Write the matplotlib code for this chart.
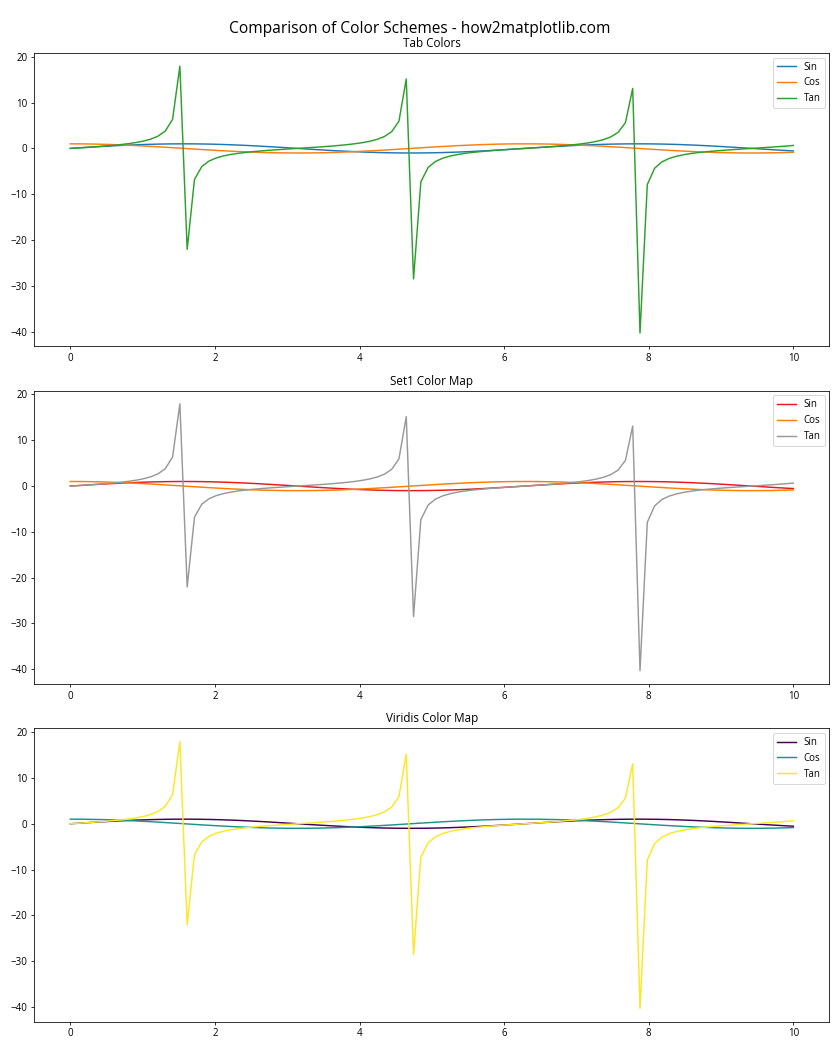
import matplotlib
matplotlib.use("Agg")
import matplotlib.pyplot as plt
import numpy as np

plt.rcParams['font.family'] = ['Open Sans', 'DejaVu Sans']

# x positions (100 evenly spaced samples from 0 to 10)
x = [0.0, 0.101, 0.202, 0.303, 0.404, 0.505, 0.606, 0.707, 0.808, 0.909,
     1.010, 1.111, 1.212, 1.313, 1.414, 1.515, 1.616, 1.717, 1.818, 1.919,
     2.020, 2.121, 2.222, 2.323, 2.424, 2.525, 2.626, 2.727, 2.828, 2.929,
     3.030, 3.131, 3.232, 3.333, 3.434, 3.535, 3.636, 3.737, 3.838, 3.939,
     4.040, 4.141, 4.242, 4.343, 4.444, 4.545, 4.646, 4.747, 4.848, 4.949,
     5.051, 5.152, 5.253, 5.354, 5.455, 5.556, 5.657, 5.758, 5.859, 5.960,
     6.061, 6.162, 6.263, 6.364, 6.465, 6.566, 6.667, 6.768, 6.869, 6.970,
     7.071, 7.172, 7.273, 7.374, 7.475, 7.576, 7.677, 7.778, 7.879, 7.980,
     8.081, 8.182, 8.283, 8.384, 8.485, 8.586, 8.687, 8.788, 8.889, 8.990,
     9.091, 9.192, 9.293, 9.394, 9.495, 9.596, 9.697, 9.798, 9.899, 10.0]

sin_vals = [0.000, 0.101, 0.201, 0.298, 0.393, 0.484, 0.570, 0.650, 0.723, 0.789,
            0.847, 0.896, 0.936, 0.967, 0.988, 0.999, 0.999, 0.989, 0.970, 0.940,
            0.901, 0.852, 0.795, 0.730, 0.657, 0.578, 0.493, 0.403, 0.308, 0.211,
            0.111, 0.010, -0.091, -0.191, -0.289, -0.384, -0.475, -0.561, -0.642, -0.716,
            -0.783, -0.841, -0.892, -0.933, -0.964, -0.986, -0.998, -0.999, -0.991, -0.972,
            -0.943, -0.905, -0.858, -0.801, -0.737, -0.665, -0.586, -0.502, -0.412, -0.318,
            -0.221, -0.121, -0.021, 0.080, 0.180, 0.279, 0.374, 0.466, 0.553, 0.634,
            0.709, 0.776, 0.836, 0.887, 0.929, 0.962, 0.984, 0.997, 1.000, 0.992,
            0.974, 0.947, 0.909, 0.863, 0.808, 0.744, 0.673, 0.595, 0.511, 0.421,
            0.328, 0.231, 0.131, 0.031, -0.070, -0.170, -0.269, -0.365, -0.457, -0.544]

cos_vals = [1.000, 0.995, 0.980, 0.954, 0.919, 0.875, 0.822, 0.760, 0.691, 0.615,
            0.532, 0.444, 0.351, 0.255, 0.156, 0.056, -0.045, -0.146, -0.245, -0.341,
            -0.434, -0.523, -0.606, -0.683, -0.754, -0.816, -0.870, -0.915, -0.951, -0.978,
            -0.994, -1.000, -0.996, -0.982, -0.957, -0.923, -0.880, -0.828, -0.767, -0.698,
            -0.623, -0.540, -0.453, -0.361, -0.265, -0.166, -0.066, 0.035, 0.136, 0.235,
            0.332, 0.425, 0.514, 0.598, 0.676, 0.747, 0.810, 0.865, 0.911, 0.948,
            0.975, 0.993, 1.000, 0.997, 0.984, 0.960, 0.927, 0.885, 0.833, 0.773,
            0.706, 0.631, 0.549, 0.462, 0.370, 0.275, 0.176, 0.076, -0.025, -0.125,
            -0.225, -0.322, -0.416, -0.505, -0.590, -0.668, -0.740, -0.804, -0.860, -0.907,
            -0.945, -0.973, -0.991, -1.000, -0.998, -0.985, -0.963, -0.931, -0.890, -0.839]

tan_vals = [0.000, 0.101, 0.205, 0.313, 0.428, 0.553, 0.693, 0.854, 1.046, 1.284,
            1.593, 2.020, 2.667, 3.795, 6.331, 17.953, -22.029, -6.783, -3.960, -2.753,
            -2.073, -1.630, -1.312, -1.068, -0.872, -0.708, -0.566, -0.440, -0.324, -0.216,
            -0.112, -0.010, 0.091, 0.194, 0.301, 0.415, 0.540, 0.678, 0.837, 1.025,
            1.257, 1.557, 1.969, 2.586, 3.642, 5.935, 15.147, -28.490, -7.302, -4.138,
            -2.844, -2.129, -1.668, -1.340, -1.090, -0.891, -0.724, -0.580, -0.452, -0.335,
            -0.226, -0.122, -0.021, 0.081, 0.183, 0.290, 0.403, 0.526, 0.663, 0.819,
            1.004, 1.231, 1.522, 1.920, 2.509, 3.501, 5.584, 13.097, -40.305, -7.906,
            -4.333, -2.940, -2.187, -1.707, -1.369, -1.113, -0.909, -0.740, -0.594, -0.465,
            -0.347, -0.237, -0.133, -0.031, 0.070, 0.173, 0.279, 0.392, 0.513, 0.648]

labels = ['Sin', 'Cos', 'Tan']
titles = ['Tab Colors', 'Set1 Color Map', 'Viridis Color Map']
schemes = [
    ['tab:blue', 'tab:orange', 'tab:green'],
    [plt.cm.Set1(0.0), plt.cm.Set1(0.5), plt.cm.Set1(1.0)],
    [plt.cm.viridis(0.0), plt.cm.viridis(0.5), plt.cm.viridis(1.0)],
]

fig, axes = plt.subplots(3, 1, figsize=(12, 15), dpi=70)
fig.suptitle('Comparison of Color Schemes - how2matplotlib.com', fontsize=16)

for ax, title, cols in zip(axes, titles, schemes):
    for ys, lab, c in zip([sin_vals, cos_vals, tan_vals], labels, cols):
        ax.plot(x, ys, color=c, label=lab)
    ax.set_title(title)
    ax.legend(loc='upper right')

plt.tight_layout()
plt.savefig('out.png', dpi=70)
